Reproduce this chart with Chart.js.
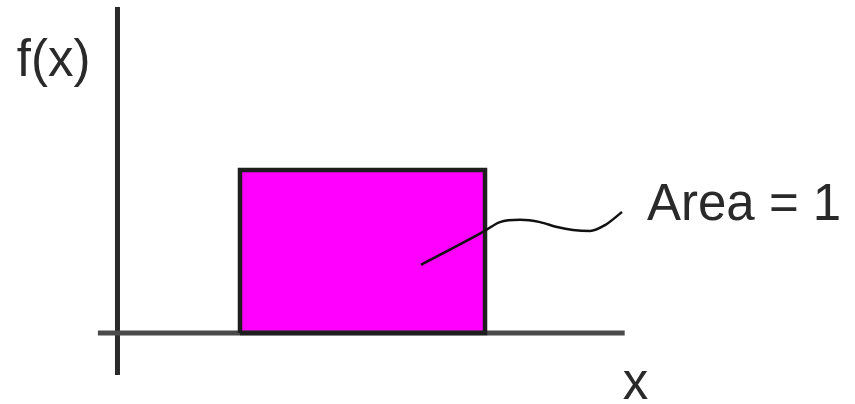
<!DOCTYPE html>
<html>
<head>
<meta charset="utf-8">
<script src="https://cdn.jsdelivr.net/npm/chart.js@4"></script>
<style>
  html, body { margin: 0; padding: 0; background: #ffffff; }
  #wrap { width: 855px; height: 404px; }
</style>
</head>
<body>
<div id="wrap"><canvas id="c" width="855" height="404"></canvas></div>
<script>
// ---- data ----
const lowerBound = 1;            // a
const upperBound = 3;            // b
const density = 1 / (upperBound - lowerBound);   // f(x) = 1/(b-a)
const yAxisSpan = [-0.129, 1.0];
const xAxisSpan = [-0.16, 4.14];
const leaderX = [2.478, 2.984, 3.122, 3.286, 3.449, 3.588, 3.718, 3.857, 3.980, 4.118];
const leaderY = [0.209, 0.310, 0.340, 0.347, 0.340, 0.325, 0.316, 0.313, 0.331, 0.371];
const yAxisLabel = 'f(x)';
const xAxisLabel = 'x';
const areaLabel = 'Area = 1';

const rectTop = [{x: lowerBound, y: density}, {x: upperBound, y: density}];
const rectPts = [
  {x: lowerBound, y: 0}, {x: lowerBound, y: density},
  {x: upperBound, y: density}, {x: upperBound, y: 0}, {x: lowerBound, y: 0}
];
const leaderPts = leaderX.map((x, i) => ({x, y: leaderY[i]}));

const textPlugin = {
  id: 'texts',
  afterDatasetsDraw(chart) {
    const {ctx, scales: {x, y}} = chart;
    ctx.save();
    ctx.fillStyle = '#2a2a2a';
    ctx.font = '51px "Liberation Sans", Arial, sans-serif';
    ctx.textBaseline = 'alphabetic';
    ctx.textAlign = 'right';
    ctx.fillText(yAxisLabel, x.getPixelForValue(0) - 27, y.getPixelForValue(yAxisSpan[1]) + 69);
    ctx.textAlign = 'left';
    ctx.fillText(xAxisLabel, x.getPixelForValue(xAxisSpan[1]) - 2, y.getPixelForValue(0) + 66);
    const lx = x.getPixelForValue(leaderX[leaderX.length - 1]);
    const ly = y.getPixelForValue(leaderY[leaderY.length - 1]);
    ctx.fillText(areaLabel, lx + 25, ly + 8);
    ctx.restore();
  }
};

const bgPlugin = {
  id: 'bg',
  beforeDraw(chart) {
    const ctx = chart.ctx;
    ctx.save();
    ctx.fillStyle = '#ffffff';
    ctx.fillRect(0, 0, chart.width, chart.height);
    ctx.restore();
  }
};

new Chart(document.getElementById('c'), {
  type: 'line',
  data: {
    datasets: [
      {
        label: 'leader',
        data: leaderPts,
        borderColor: '#111111',
        borderWidth: 2.5,
        pointRadius: 0,
        cubicInterpolationMode: 'monotone',
        fill: false,
        order: 0
      },
      {
        label: 'density border',
        data: rectPts,
        borderColor: '#1e1e1e',
        borderWidth: 4.5,
        pointRadius: 0,
        tension: 0,
        fill: false,
        order: 1
      },
      {
        label: 'density fill',
        data: rectTop,
        borderWidth: 0,
        borderColor: 'rgba(0,0,0,0)',
        backgroundColor: '#ff00ff',
        pointRadius: 0,
        tension: 0,
        fill: 'origin',
        order: 3
      },
      {
        label: 'xaxis',
        data: [{x: xAxisSpan[0], y: 0}, {x: xAxisSpan[1], y: 0}],
        borderColor: '#4a4a4a',
        borderWidth: 5,
        pointRadius: 0,
        fill: false,
        order: 2
      },
      {
        label: 'yaxis',
        data: [{x: 0, y: yAxisSpan[0]}, {x: 0, y: yAxisSpan[1]}],
        borderColor: '#2a2a2a',
        borderWidth: 5,
        pointRadius: 0,
        fill: false,
        order: 2
      }
    ]
  },
  options: {
    responsive: false,
    animation: false,
    devicePixelRatio: 1,
    layout: { padding: 0 },
    plugins: { legend: { display: false }, tooltip: { enabled: false }, filler: { propagate: false } },
    scales: {
      x: { type: 'linear', display: false, min: -0.959, max: 6.02 },
      y: { type: 'linear', display: false, min: -0.218, max: 1.0215 }
    }
  },
  plugins: [bgPlugin, textPlugin]
});
</script>
</body>
</html>
